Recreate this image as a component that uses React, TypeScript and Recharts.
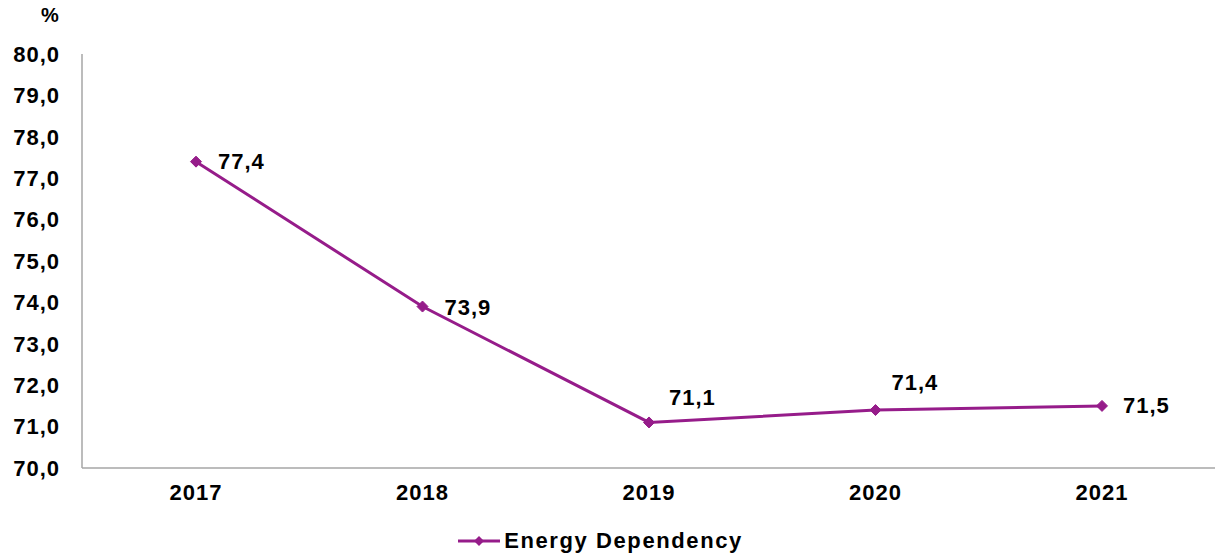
import { LineChart, Line, XAxis, YAxis, Legend, LabelList } from 'recharts';

// Energy dependency, %
const years = ['2017', '2018', '2019', '2020', '2021'];
const dependency = [77.4, 73.9, 71.1, 71.4, 71.5];
const yTicks = [70, 71, 72, 73, 74, 75, 76, 77, 78, 79, 80];

const data = years.map((year, i) => ({ year, value: dependency[i] }));

const PURPLE = '#961c8a';
const AXIS = '#a6a6a6';
const FONT = '"Liberation Sans", Arial, sans-serif';

const fmt = (v: number) => v.toFixed(1).replace('.', ',');

// label placement relative to each marker (dx to text start, dy to text middle)
const labelShift = [
  [22, 0],
  [22, 1],
  [20, -25],
  [16, -28],
  [21, 0],
];

const Diamond = (props: any) => {
  const { cx, cy } = props;
  if (cx == null || cy == null) return null;
  const r = 5.5;
  return (
    <path
      d={`M${cx},${cy - r} L${cx + r},${cy} L${cx},${cy + r} L${cx - r},${cy} Z`}
      fill={PURPLE}
      stroke={PURPLE}
    />
  );
};

const ValueLabel = (props: any) => {
  const { x, y, value, index } = props;
  const [dx, dy] = labelShift[index] || [20, 0];
  return (
    <text
      x={x + dx}
      y={y + dy}
      dominantBaseline="central"
      fontFamily={FONT}
      fontWeight="bold"
      fontSize={22}
      letterSpacing={1}
      fill="#000"
    >
      {fmt(value)}
    </text>
  );
};

const LegendContent = () => (
  <div
    style={{
      display: 'flex',
      alignItems: 'center',
      justifyContent: 'center',
      fontFamily: FONT,
      fontWeight: 'bold',
      fontSize: 22,
      letterSpacing: 1.6,
      color: '#000',
      paddingRight: 14,
    }}
  >
    <svg width={42} height={14} style={{ marginRight: 4 }}>
      <line x1={0} y1={7} x2={42} y2={7} stroke={PURPLE} strokeWidth={3} />
      <path d="M21,2 L26,7 L21,12 L16,7 Z" fill={PURPLE} />
    </svg>
    <span>Energy Dependency</span>
  </div>
);

export default function App() {
  return (
    <div style={{ position: 'absolute', left: 0, top: 0, background: '#fff' }}>
      <LineChart
        width={1215}
        height={559}
        data={data}
        margin={{ top: 54, right: 0, left: 10, bottom: 0 }}
      >
        <XAxis
          dataKey="year"
          stroke={AXIS}
          strokeWidth={1.5}
          tickLine={false}
          tickMargin={10}
          height={60}
          padding={{ left: 114, right: 113 }}
          tick={{ fill: '#000', fontSize: 22, fontWeight: 'bold', fontFamily: FONT, letterSpacing: 1 }}
        />
        <YAxis
          width={72}
          domain={[70, 80]}
          ticks={yTicks}
          interval={0}
          tickFormatter={fmt}
          stroke={AXIS}
          strokeWidth={1.5}
          tickLine={false}
          tickMargin={16}
          tick={{ fill: '#000', fontSize: 22, fontWeight: 'bold', fontFamily: FONT, letterSpacing: 1 }}
          label={{
            value: '%',
            position: 'top',
            offset: 32,
            dx: 4,
            fill: '#000',
            fontSize: 20,
            fontWeight: 'bold',
            fontFamily: FONT,
          }}
        />
        <Legend
          verticalAlign="bottom"
          height={31}
          content={<LegendContent />}
          wrapperStyle={{ left: 0, width: 1215 }}
        />
        <Line
          type="linear"
          dataKey="value"
          name="Energy Dependency"
          stroke={PURPLE}
          strokeWidth={3}
          dot={<Diamond />}
          activeDot={false}
          isAnimationActive={false}
        >
          <LabelList dataKey="value" content={<ValueLabel />} />
        </Line>
      </LineChart>
    </div>
  );
}
